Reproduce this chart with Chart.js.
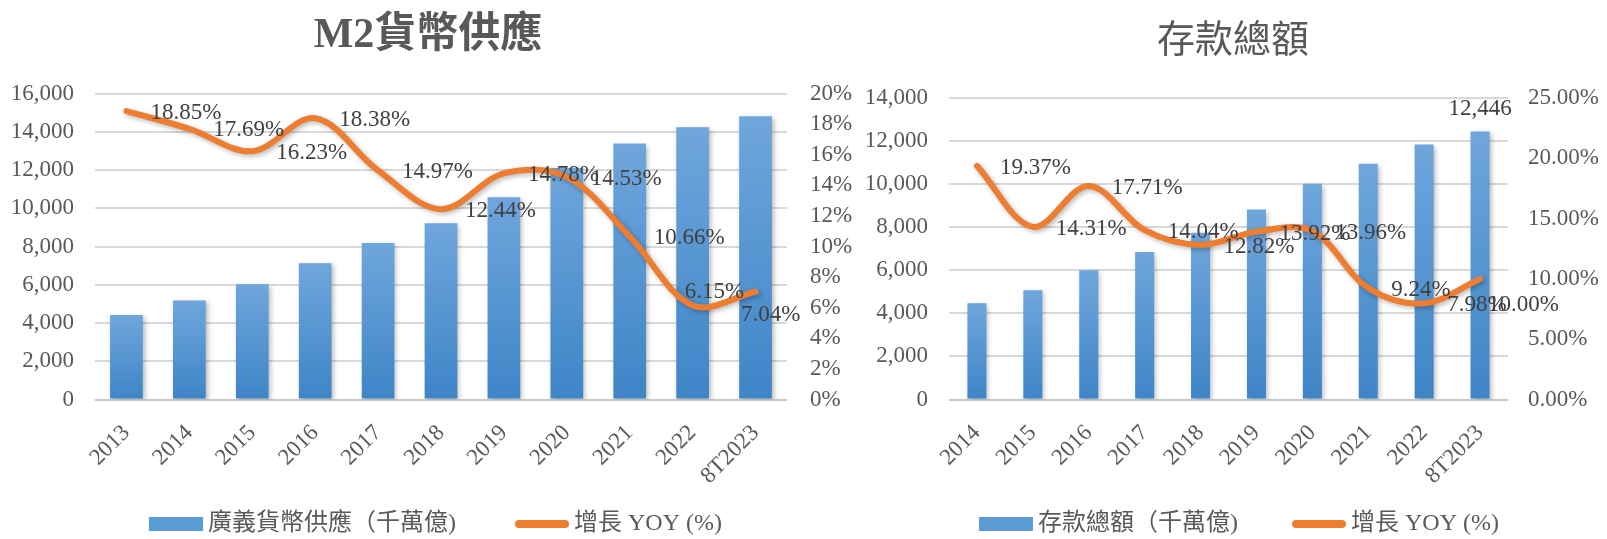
<!DOCTYPE html>
<html>
<head>
<meta charset="utf-8">
<script src="https://cdn.jsdelivr.net/npm/chart.js@4/dist/chart.umd.min.js"></script>
<style>
  body { margin: 0; background: #fff; }
  .wrap { display: flex; width: 1607px; height: 539px; }
  canvas { display: block; }
</style>
</head>
<body>
<div class="wrap">
  <canvas id="m2Chart" width="855" height="539"></canvas>
  <canvas id="depChart" width="752" height="539"></canvas>
</div>
<script>
// M2 chart data
const m2Years = ['2013', '2014', '2015', '2016', '2017', '2018', '2019', '2020', '2021', '2022', '8T2023'];
const m2Supply = [4420, 5180, 6030, 7120, 8180, 9220, 10580, 12100, 13380, 14230, 14810];
const m2Growth = [18.85, 17.69, 16.23, 18.38, 14.97, 12.44, 14.78, 14.53, 10.66, 6.15, 7.04];

// deposits chart data
const depYears = ['2014', '2015', '2016', '2017', '2018', '2019', '2020', '2021', '2022', '8T2023'];
const depTotal = [4470, 5070, 6000, 6850, 7740, 8820, 10020, 10950, 11840, 12446];
const depGrowth = [19.37, 14.31, 17.71, 14.04, 12.82, 13.92, 13.96, 9.24, 7.98, 10.00];

const FONT = '"Liberation Serif", "Noto Sans CJK TC", serif';
const GREY = '#595959';
const BLUE = '#5B9BD5';
const ORANGE = '#ED7D31';

function barGradient(c) {
  const chart = c.chart;
  if (c.type !== 'data' || !chart.chartArea) return BLUE;
  const y = chart.scales.y;
  const top = y.getPixelForValue(c.raw);
  const bottom = y.getPixelForValue(0);
  const g = chart.ctx.createLinearGradient(0, top, 0, bottom);
  g.addColorStop(0, '#6FA6DC');
  g.addColorStop(1, '#3E85C7');
  return g;
}

// soft drop shadow under bars and line, like the Excel original
const shadow = {
  id: 'shadow',
  beforeDatasetDraw(chart) {
    const ctx = chart.ctx;
    ctx.save();
    ctx.shadowColor = 'rgba(0, 0, 0, 0.28)';
    ctx.shadowBlur = 5;
    ctx.shadowOffsetX = 2;
    ctx.shadowOffsetY = 2;
  },
  afterDatasetDraw(chart) {
    chart.ctx.restore();
  }
};

// title, legend, point labels and bar labels
const decor = {
  id: 'decor',
  afterDatasetsDraw(chart, args, opts) {
    const ctx = chart.ctx;
    ctx.save();
    ctx.font = '23px ' + FONT;
    ctx.fillStyle = '#404040';
    ctx.textBaseline = 'middle';
    ctx.textAlign = 'left';
    const vals = chart.data.datasets[1].data;
    chart.getDatasetMeta(1).data.forEach((pt, i) => {
      const n = opts.nudge[i] || opts.shift;
      ctx.fillText(vals[i].toFixed(2) + '%', pt.x + n[0], pt.y + n[1]);
    });
    ctx.textAlign = 'center';
    const bars = chart.data.datasets[0].data;
    (opts.barLabels || []).forEach(i => {
      const bar = chart.getDatasetMeta(0).data[i];
      ctx.fillText(bars[i].toLocaleString('en-US'), bar.x, bar.y - 23);
    });
    ctx.restore();
  },
  afterDraw(chart, args, opts) {
    const ctx = chart.ctx;
    ctx.save();
    ctx.font = opts.titleFont;
    ctx.fillStyle = GREY;
    ctx.textAlign = 'center';
    ctx.textBaseline = 'middle';
    ctx.fillText(opts.title, opts.titleX, opts.titleY);

    // legend: bar box, then line swatch
    const ds = chart.data.datasets;
    const y = opts.legendY;
    let x = opts.legendX;
    ctx.font = '24px ' + FONT;
    ctx.textAlign = 'left';
    ctx.fillStyle = BLUE;
    ctx.fillRect(x, y - 7, 54, 14);
    ctx.fillStyle = GREY;
    ctx.fillText(ds[0].label, x + 59, y);
    x += 59 + ctx.measureText(ds[0].label).width + opts.legendGap;
    ctx.strokeStyle = ORANGE;
    ctx.lineWidth = 8;
    ctx.lineCap = 'round';
    ctx.beginPath();
    ctx.moveTo(x + 4, y);
    ctx.lineTo(x + 50, y);
    ctx.stroke();
    ctx.fillText(ds[1].label, x + 59, y);
    ctx.restore();
  }
};

function makeChart(id, cfg) {
  return new Chart(document.getElementById(id), {
    type: 'bar',
    data: {
      labels: cfg.labels,
      datasets: [{
        label: cfg.barName,
        data: cfg.bars,
        backgroundColor: barGradient,
        borderWidth: 0,
        barPercentage: cfg.barPct,
        categoryPercentage: 1,
        order: 1
      }, {
        type: 'line',
        label: '增長 YOY (%)',
        data: cfg.growth,
        yAxisID: 'y1',
        borderColor: ORANGE,
        backgroundColor: ORANGE,
        borderWidth: 6,
        borderCapStyle: 'round',
        tension: 0.35,
        pointRadius: 0,
        order: 0
      }]
    },
    options: {
      responsive: false,
      animation: false,
      layout: { padding: { top: cfg.top, left: 0, right: 0, bottom: 39 } },
      scales: {
        x: {
          grid: { display: false },
          border: { display: false },
          ticks: { color: GREY, font: { family: FONT, size: 23 }, minRotation: 45, maxRotation: 45, padding: 12 },
          afterFit: s => { s.height = 500 - 399.5; }
        },
        y: {
          min: 0, max: cfg.yMax,
          grid: { color: c => c.tick.value === 0 ? '#C8C8C8' : '#D9D9D9', lineWidth: 2, drawTicks: false },
          border: { display: false },
          ticks: { stepSize: 2000, color: GREY, font: { family: FONT, size: 23 }, padding: 21,
                   callback: v => v.toLocaleString('en-US') },
          afterFit: s => { s.width = cfg.yWidth; }
        },
        y1: {
          position: 'right',
          min: 0, max: cfg.pMax,
          grid: { display: false, drawTicks: false },
          border: { display: false },
          ticks: { stepSize: cfg.pStep, color: GREY, font: { family: FONT, size: 23 }, padding: cfg.pPad,
                   callback: v => v.toFixed(cfg.pDigits) + '%' },
          afterFit: s => { s.width = cfg.pWidth; }
        }
      },
      plugins: {
        tooltip: { enabled: false },
        legend: { display: false },
        decor: cfg.decor
      }
    },
    plugins: [shadow, decor]
  });
}

makeChart('m2Chart', {
  labels: m2Years, bars: m2Supply, growth: m2Growth,
  barName: '廣義貨幣供應（千萬億)',
  barPct: 0.52,
  top: 93.5,
  yMax: 16000, yWidth: 95,
  pMax: 20, pStep: 2, pDigits: 0, pPad: 23, pWidth: 68,
  decor: {
    title: 'M2貨幣供應', titleFont: 'bold 42px ' + FONT, titleX: 428, titleY: 36,
    legendX: 149, legendY: 524, legendGap: 59,
    shift: [24, 1.5], nudge: { 9: [-8, -13], 10: [-14.5, 23] }
  }
});

makeChart('depChart', {
  labels: depYears, bars: depTotal, growth: depGrowth,
  barName: '存款總額（千萬億)',
  barPct: 0.34,
  top: 98,
  yMax: 14000, yWidth: 94,
  pMax: 25, pStep: 5, pDigits: 2, pPad: 20, pWidth: 99,
  decor: {
    title: '存款總額', titleFont: '38px ' + FONT, titleX: 378, titleY: 42,
    legendX: 124, legendY: 524, legendGap: 54,
    shift: [23, 2], nudge: { 9: [8, 26] }, barLabels: [9]
  }
});
</script>
</body>
</html>
